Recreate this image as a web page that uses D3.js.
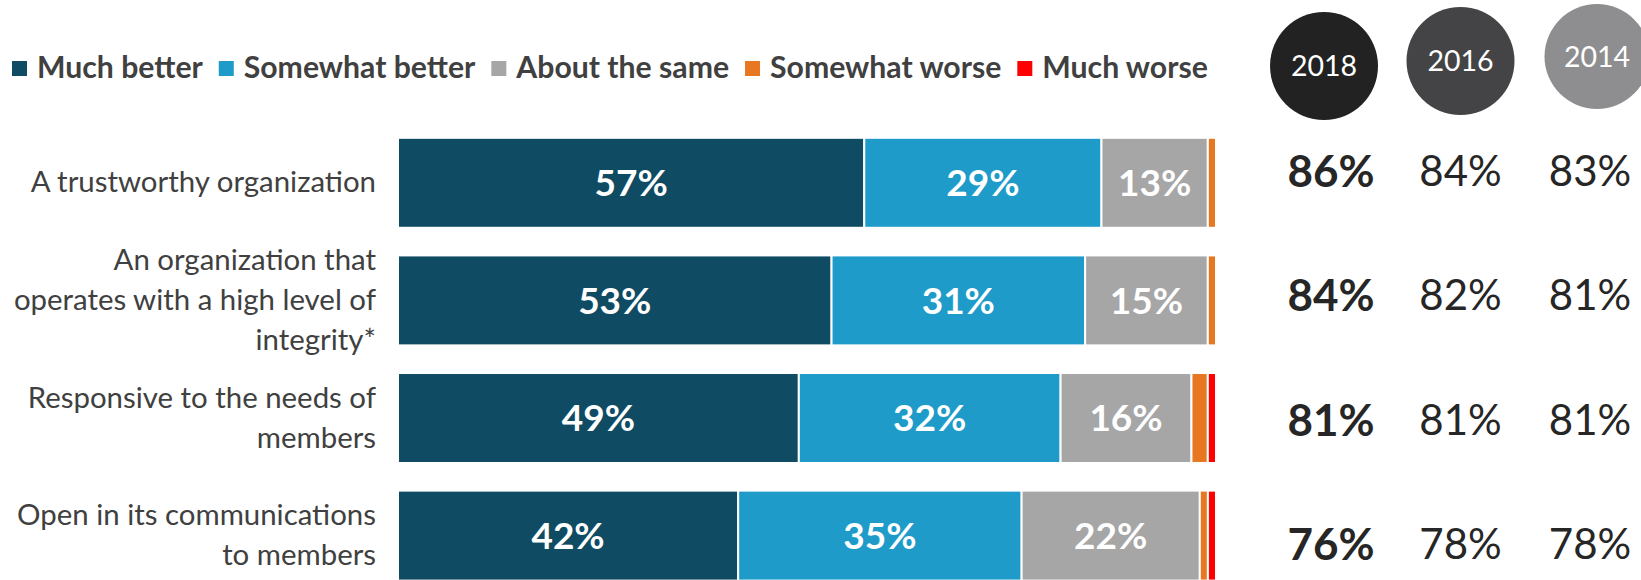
<!DOCTYPE html>
<html>
<head>
<meta charset="utf-8">
<script src="https://cdn.jsdelivr.net/npm/d3@7"></script>
<style>
  html, body { margin: 0; padding: 0; background: #fff; }
  svg { display: block; font-family: Lato, "Open Sans", sans-serif; }
</style>
</head>
<body>
<svg width="1641" height="580"></svg>
<script>
// Data
const categories = [
  "A trustworthy organization",
  "An organization that operates with a high level of integrity*",
  "Responsive to the needs of members",
  "Open in its communications to members"
];
const categoryLines = [
  ["A trustworthy organization"],
  ["An organization that", "operates with a high level of", "integrity*"],
  ["Responsive to the needs of", "members"],
  ["Open in its communications", "to members"]
];
const seriesNames = ["Much better", "Somewhat better", "About the same", "Somewhat worse", "Much worse"];
const muchBetter     = [57, 53, 49, 42];
const somewhatBetter = [29, 31, 32, 35];
const aboutSame      = [13, 15, 16, 22];
const somewhatWorse  = [1, 1, 2, 1];
const muchWorse      = [0, 0, 1, 1];

const years = ["2018", "2016", "2014"];
const total2018 = [86, 84, 81, 76];
const total2016 = [84, 82, 81, 78];
const total2014 = [83, 81, 81, 78];

// Styles
const colors = ["#0f4b63", "#1e9bc9", "#a6a6a6", "#e87722", "#ff0000"];
const circleColors = ["#222222", "#444446", "#8e8e90"];
const textColor = "#404040";

const svg = d3.select("svg");

const rows = categories.map((c, i) => ({
  category: c,
  "Much better": muchBetter[i],
  "Somewhat better": somewhatBetter[i],
  "About the same": aboutSame[i],
  "Somewhat worse": somewhatWorse[i],
  "Much worse": muchWorse[i]
}));

// 100% stacked bars
const stacked = d3.stack().keys(seriesNames).offset(d3.stackOffsetExpand)(rows);

const x = d3.scaleLinear().domain([0, 1]).range([398, 1216]);
const y = d3.scaleBand()
  .domain(categories)
  .range([124, 594.4])
  .paddingInner(0.235)
  .paddingOuter(0.1175);

const layers = svg.append("g").selectAll("g")
  .data(stacked)
  .join("g")
  .attr("fill", (d, i) => colors[i]);

layers.selectAll("rect")
  .data(d => d.map(s => ({ s, category: s.data.category })))
  .join("rect")
  .attr("x", d => x(d.s[0]))
  .attr("y", d => y(d.category))
  .attr("width", d => Math.max(0, x(d.s[1]) - x(d.s[0])))
  .attr("height", y.bandwidth())
  .attr("stroke", "#ffffff")
  .attr("stroke-width", 2);

// Bar labels (three largest segments)
const labelled = ["Much better", "Somewhat better", "About the same"];
stacked.filter(l => labelled.includes(l.key)).forEach(layer => {
  svg.append("g").selectAll("text")
    .data(layer)
    .join("text")
    .attr("x", d => (x(d[0]) + x(d[1])) / 2)
    .attr("y", d => y(d.data.category) + y.bandwidth() / 2)
    .attr("dy", "0.36em")
    .attr("text-anchor", "middle")
    .attr("fill", "#fff")
    .attr("font-weight", 700)
    .attr("font-size", "37px")
    .text(d => d.data[layer.key] + "%");
});

// Category labels
const catG = svg.append("g");
categories.forEach((c, i) => {
  const lines = categoryLines[i];
  const cy = y(c) + y.bandwidth() / 2;
  const t = catG.append("text")
    .attr("text-anchor", "end")
    .attr("fill", textColor)
    .attr("font-size", "29.4px");
  lines.forEach((ln, j) => {
    t.append("tspan")
      .attr("x", 376)
      .attr("y", cy + (j - (lines.length - 1) / 2) * 40 + 9.5)
      .text(ln);
  });
});

// Legend
const legend = svg.append("g").attr("font-size", "30.2px").attr("font-weight", 700);
let lx = 12;
seriesNames.forEach((name, i) => {
  legend.append("rect")
    .attr("x", lx).attr("y", 61)
    .attr("width", 15).attr("height", 15)
    .attr("fill", colors[i]);
  const t = legend.append("text")
    .attr("x", lx + 25).attr("y", 67)
    .attr("dy", "0.36em")
    .attr("fill", textColor)
    .text(name);
  lx += 25 + t.node().getComputedTextLength() + 16;
});

// Year circles
const cx = d3.scalePoint().domain(years).range([1324, 1597]);
const circleCy = [66, 61, 56.5];
const circleR = [54, 54, 52.5];
const circles = svg.append("g");
years.forEach((yr, i) => {
  circles.append("circle")
    .attr("cx", cx(yr)).attr("cy", circleCy[i]).attr("r", circleR[i])
    .attr("fill", circleColors[i]);
  circles.append("text")
    .attr("x", cx(yr)).attr("y", circleCy[i])
    .attr("dy", "0.36em")
    .attr("text-anchor", "middle")
    .attr("fill", "#fff")
    .attr("font-size", "28.5px")
    .text(yr);
});

// Year totals
const vx = d3.scalePoint().domain(years).range([1331, 1590]);
const vy = d3.scalePoint().domain(categories).range([171, 544]);
const totals = [total2018, total2016, total2014];
years.forEach((yr, k) => {
  svg.append("g").selectAll("text")
    .data(totals[k])
    .join("text")
    .attr("x", vx(yr))
    .attr("y", (d, i) => vy(categories[i]))
    .attr("dy", "0.36em")
    .attr("text-anchor", "middle")
    .attr("fill", "#262626")
    .attr("font-size", k === 0 ? "44px" : "42px")
    .attr("font-weight", k === 0 ? 700 : 400)
    .text(d => d + "%");
});
</script>
</body>
</html>
